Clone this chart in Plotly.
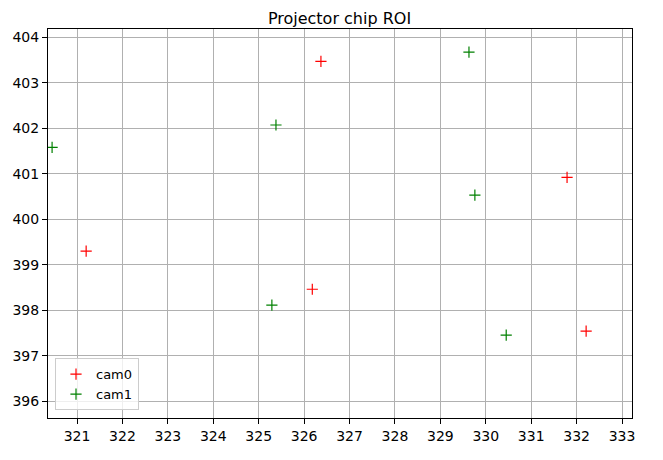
import plotly.graph_objects as go

# cam0 / cam1 ROI centres
cam0_x = [321.20, 326.37, 326.18, 331.79, 332.21]
cam0_y = [399.30, 403.47, 398.46, 400.92, 397.54]
cam1_x = [320.45, 325.38, 329.63, 329.76, 325.29, 330.45]
cam1_y = [401.58, 402.07, 403.67, 400.53, 398.11, 397.45]

x_ticks = list(range(321, 334))
y_ticks = list(range(396, 405))

fig = go.Figure()
fig.add_trace(go.Scatter(x=cam0_x, y=cam0_y, mode='markers', name='cam0',
                         marker=dict(symbol='cross-thin-open', size=8, color='red',
                                     line=dict(color='red', width=1.2))))
fig.add_trace(go.Scatter(x=cam1_x, y=cam1_y, mode='markers', name='cam1',
                         marker=dict(symbol='cross-thin-open', size=8, color='green',
                                     line=dict(color='green', width=1.2))))

axis_style = dict(showgrid=True, gridcolor='#b0b0b0', gridwidth=1,
                  showline=True, linecolor='black', linewidth=1, mirror=True,
                  ticks='outside', ticklen=5, tickcolor='black', automargin=False,
                  zeroline=False, tickfont=dict(size=14, color='black'))

fig.update_xaxes(range=[320.36, 333.22], tickvals=x_ticks, **axis_style)
fig.update_yaxes(range=[395.63, 404.18], tickvals=y_ticks, **axis_style)

# page body adds ~8px offset, so margins are shifted to line up with the reference
fig.update_layout(
    width=663, height=460,
    margin=dict(l=40, r=39, t=21, b=50),
    paper_bgcolor='white', plot_bgcolor='white',
    font=dict(family='DejaVu Sans', color='black'),
    title=dict(text='Projector chip ROI', x=0.5, xanchor='center',
               y=0.99, yanchor='top', font=dict(size=16)),
    legend=dict(x=0.012, y=0.02, xanchor='left', yanchor='bottom',
                bgcolor='rgba(255,255,255,0.8)', bordercolor='#cccccc',
                borderwidth=1, font=dict(size=13)),
    showlegend=True,
)

fig.write_html("out.html")
